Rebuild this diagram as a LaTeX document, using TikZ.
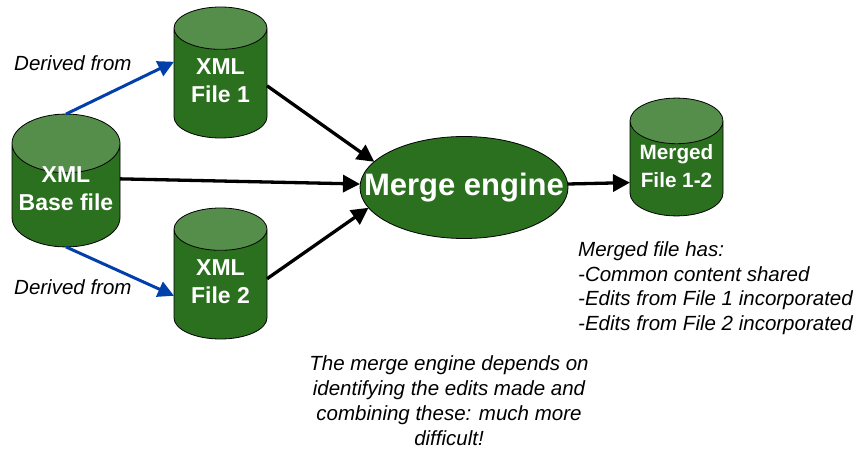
\documentclass[tikz,border=0pt]{standalone}
\usepackage{fontspec}
\setmainfont{Liberation Sans}
\usetikzlibrary{shapes.geometric}
\usetikzlibrary{arrows.meta}
\definecolor{dbgreen}{RGB}{43,112,30}
\definecolor{dbtop}{RGB}{85,141,75}
\definecolor{derivedblue}{RGB}{3,63,170}
\tikzset{
  xmlfile/.style={cylinder,shape border rotate=90,draw=black,thick,cylinder uses custom fill,
    cylinder body fill=dbgreen,cylinder end fill=dbtop,text=white,align=center,
    font=\fontsize{23}{28}\selectfont\bfseries,minimum width=93pt,minimum height=131pt,
    aspect=0.72,inner sep=0pt,outer sep=0pt,anchor=shape center,text depth=6pt},
  derivedarrow/.style={->,derivedblue,line width=3pt,>={Triangle[length=16pt,width=16pt]}},
  mergearrow/.style={->,black,line width=3.3pt},
  notetext/.style={font=\fontsize{20.5}{24.6}\selectfont\itshape,inner sep=0pt}
}
\begin{document}
\begin{tikzpicture}[>={Triangle[length=17pt,width=17pt]},x=1pt,y=-1pt]
    \useasboundingbox (0,0) rectangle (858,449);
    \node[xmlfile,minimum width=108pt,aspect=0.62,text height=37.5pt,text depth=7pt] (base) at (66,180.5) {XML\\Base file};
    \node[xmlfile] (fileone) at (220.5,72.5) {XML\\File 1};
    \node[xmlfile] (filetwo) at (220.5,273.5) {XML\\File 2};
    \node[xmlfile,minimum height=116pt,aspect=0.62,font=\fontsize{20.7}{28}\selectfont\bfseries] (merged) at (676.5,157) {Merged\\File 1-2};
    \node[ellipse,draw=black,thick,fill=dbgreen,minimum width=208pt,minimum height=102pt,
        inner sep=0pt,outer sep=0pt,
        label={[text=white,inner sep=0pt,font=\fontsize{31}{37}\selectfont\bfseries]center:Merge engine}] (engine) at (464,187.5) {};
    \draw[derivedarrow] (base.top) -- ([yshift=21.5pt]fileone.west);
    \draw[derivedarrow] (base.bottom) -- ([yshift=-11.5pt]filetwo.west);
    \draw[mergearrow] ([yshift=-2.5pt]fileone.east) -- (engine.164);
    \draw[mergearrow] ([yshift=16.5pt]base.east) -- ([yshift=3.5pt]engine.west);
    \draw[mergearrow] ([yshift=5.5pt]filetwo.east) -- (engine.192);
    \draw[mergearrow] ([yshift=3.5pt]engine.east) -- ([yshift=-14pt]merged.west);
    \node[notetext,anchor=west] (derivedone) at (14,63) {Derived from};
    \node[notetext,anchor=west] (derivedtwo) at (14,287) {Derived from};
    \node[notetext,anchor=north west,align=left] (mergednote) at (578,241.5)
        {Merged file has:\\-Common content shared\\-Edits from File 1 incorporated\\-Edits from File 2 incorporated};
    \node[notetext,anchor=north,align=center,font=\fontsize{20.5}{25}\selectfont\itshape] (enginenote) at (449,355.5)
        {The merge engine depends on\\identifying the edits made and\\combining these: much more\\difficult!};
\end{tikzpicture}
\end{document}
